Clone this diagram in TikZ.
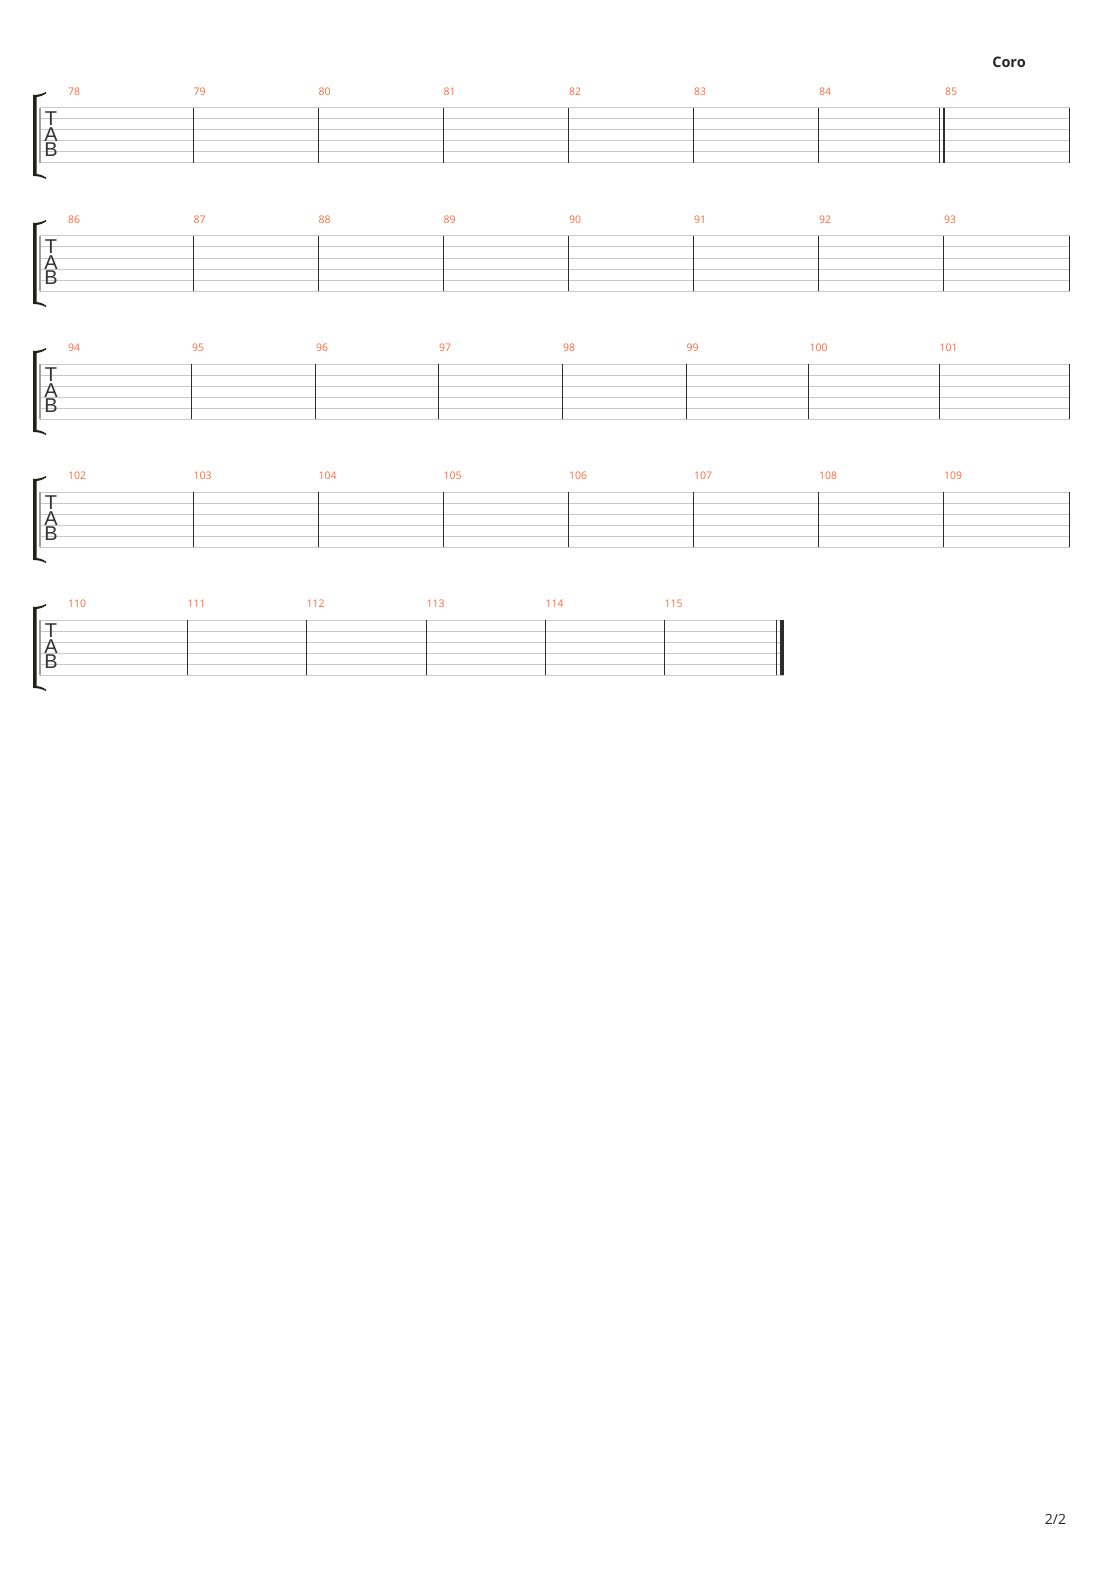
\documentclass[tikz,border=0pt]{standalone}
\usepackage{fontspec}
\setmainfont{Open Sans}
\newfontfamily\tabfont{Liberation Sans}
\usetikzlibrary{calc}
\definecolor{barnum}{RGB}{255,106,60}
\definecolor{staffgray}{RGB}{200,200,200}
\definecolor{barblack}{RGB}{45,45,45}
\definecolor{bracketcol}{RGB}{34,34,20}
\tikzset{>=latex}
\tikzset{
  staffline/.style={draw=staffgray,line width=1pt},
  leftbar/.style={draw=staffgray!80!black,line width=1.6pt},
  barline/.style={draw=barblack,line width=1.3pt},
  measnum/.style={anchor=west,inner sep=0pt,text=barnum,font=\fontsize{10.5}{10.5}\selectfont},
  tabletter/.style={inner sep=0pt,text=black!80,font=\tabfont\fontsize{20}{20}\selectfont}
}
% one TAB staff: #1 id, #2 top y, #3 right end x
\newcommand\tabstaff[3]{%
  \begin{scope}[shift={(0,#2)}]
    \foreach \s in {0,...,5}
      \draw[staffline] (40,11*\s) -- (#3,11*\s);
    \draw[leftbar] (40,0) -- (40,55);
    \fill[bracketcol] (33,-13) -- (33,68) .. controls (38,68) and (42,69) .. (46,71)
      -- (46,69.5) .. controls (42,67) and (39,66) .. (36.5,66) -- (36.5,-11)
      .. controls (39,-11) and (42,-12) .. (46,-14.5) -- (46,-16)
      .. controls (42,-14) and (38,-13) .. (33,-13) -- cycle;
    \node[tabletter] (T#1) at (51,11) {T};
    \node[tabletter] (A#1) at (51,26.5) {A};
    \node[tabletter] (B#1) at (51,42) {B};
  \end{scope}}

\begin{document}
\begin{tikzpicture}[x=1pt,y=-1pt]
  \useasboundingbox[fill=white] (0,0) rectangle (1110,1570);

  \node[font=\bfseries\fontsize{14.5}{14.5}\selectfont,text=black!85] (coro) at (1009,62) {Coro};

  % staff 1
  \tabstaff{1}{108}{1069.5}
  \begin{scope}[shift={(0,108)}]
    \foreach \x in {193.3,318.3,443.3,568.8,693.8,818.8,939.3,944,1069.5}
      \draw[barline] (\x,0) -- (\x,55);
    \foreach \x/\n in {68/78,193.5/79,318.5/80,443.5/81,569/82,694/83,819/84,945/85}
      \node[measnum] (m\n) at (\x,-16) {\n};
  \end{scope}

  % staff 2
  \tabstaff{2}{236}{1069.5}
  \begin{scope}[shift={(0,236)}]
    \foreach \x in {193.3,318.3,443.3,568.8,693.8,818.8,943.8,1069.5}
      \draw[barline] (\x,0) -- (\x,55);
    \foreach \x/\n in {68/86,193.5/87,318.5/88,443.5/89,569/90,694/91,819/92,944/93}
      \node[measnum] (m\n) at (\x,-16) {\n};
  \end{scope}

  % staff 3
  \tabstaff{3}{364}{1069.5}
  \begin{scope}[shift={(0,364)}]
    \foreach \x in {191.4,315.4,438.2,562.4,686.3,808.8,939.2,1069.5}
      \draw[barline] (\x,0) -- (\x,55);
    \foreach \x/\n in {68/94,192/95,316/96,439/97,563/98,686.5/99,809.5/100,939.5/101}
      \node[measnum] (m\n) at (\x,-16) {\n};
  \end{scope}

  % staff 4
  \tabstaff{4}{492}{1069.5}
  \begin{scope}[shift={(0,492)}]
    \foreach \x in {193.3,318.3,443.3,568.8,693.8,818.8,943.8,1069.5}
      \draw[barline] (\x,0) -- (\x,55);
    \foreach \x/\n in {68/102,193.5/103,318.5/104,443.5/105,569/106,694/107,819/108,944/109}
      \node[measnum] (m\n) at (\x,-16) {\n};
  \end{scope}

  % staff 5, final bar
  \tabstaff{5}{620}{784}
  \begin{scope}[shift={(0,620)}]
    \foreach \x in {187.3,306.3,426.3,545.3,664.3,776.5}
      \draw[barline] (\x,0) -- (\x,55);
    \fill[barblack] (780,0) rectangle (784,55);
    \foreach \x/\n in {68/110,187.5/111,306.5/112,426.5/113,545.5/114,664.5/115}
      \node[measnum] (m\n) at (\x,-16) {\n};
  \end{scope}

  \node[font=\fontsize{14}{14}\selectfont,text=black!85] (page) at (1055.5,1519) {2/2};
\end{tikzpicture}
\end{document}
